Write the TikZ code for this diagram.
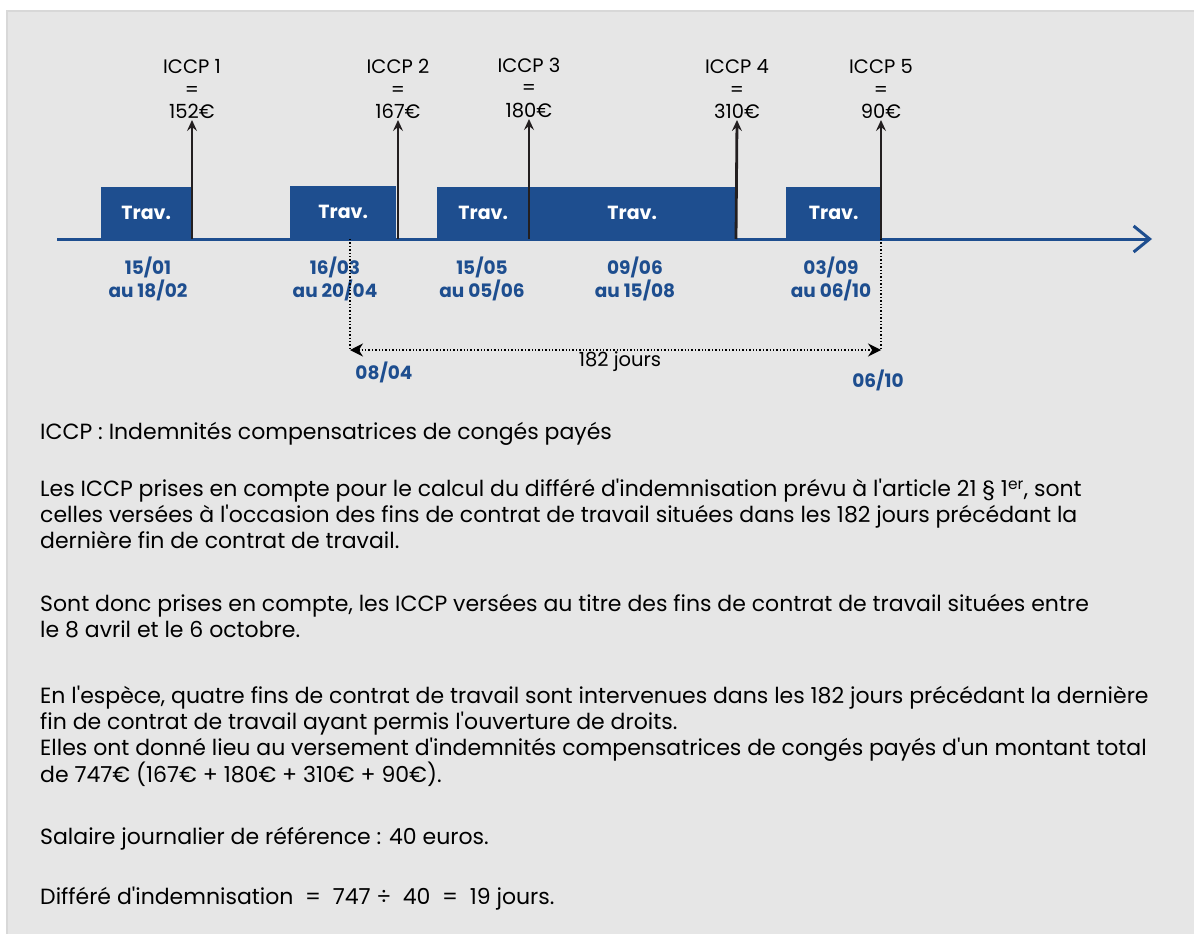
\documentclass[tikz,border=0pt]{standalone}
\usepackage{fontspec}
\setmainfont{Poppins}
\usetikzlibrary{arrows.meta, positioning, calc}
\definecolor{panel}{HTML}{E6E6E6}
\definecolor{panelline}{HTML}{D8D8D8}
\definecolor{travblue}{HTML}{1E4E8F}
\definecolor{arrowdark}{HTML}{231F20}
\newcommand{\ap}{\textquotesingle}
\tikzset{
  travbox/.style={fill=travblue, text=white, font=\fontsize{19}{22}\selectfont\bfseries,
    minimum height=52, inner sep=0, anchor=south west},
  iccplbl/.style={align=center, font=\fontsize{19.5}{22.5}\selectfont, anchor=south, inner sep=1},
  datelbl/.style={align=center, text=travblue, font=\fontsize{18.5}{23}\selectfont\bfseries, inner sep=0},
  payarrow/.style={draw=arrowdark, line width=2.8, -{Stealth[length=11, width=10, inset=4]}},
  dotline/.style={line width=1.4, dash pattern=on 1.4 off 2},
  bodytext/.style={align=left, anchor=north west, inner sep=0, font=\fontsize{22}{25.8}\selectfont}
}
\begin{document}
\begin{tikzpicture}[x=1pt, y=-1pt]
  \useasboundingbox (0,0) rectangle (1194,934);
  % Panel
  \draw[fill=panel, draw=panelline, line width=1.2] (7,11) rectangle (1200,940);

  % Time axis
  \coordinate (axstart) at (57,239);
  \coordinate (axend) at (1152,239);
  \draw[travblue, line width=3, -{Straight Barb[length=16, width=26, line width=3]}] (axstart) -- (axend);

  % Working periods
  \node[travbox, minimum width=90] (t1) at (101,239) {Trav.};
  \node[travbox, minimum width=106, minimum height=53] (t2) at (290,239) {Trav.};
  \node[travbox, minimum width=92] (t3) at (437,239) {Trav.};
  \node[travbox, minimum width=206] (t4) at (529,239) {Trav.};
  \node[travbox, minimum width=95] (t5) at (786,239) {Trav.};

  % Periods
  \node[datelbl] (d1) at (148,279) {15/01\\au 18/02};
  \node[datelbl] (d2) at (335,279) {16/03\\au 20/04};
  \node[datelbl] (d3) at (482,279) {15/05\\au 05/06};
  \node[datelbl] (d4) at (635,279) {09/06\\au 15/08};
  \node[datelbl] (d5) at (831,279) {03/09\\au 06/10};

  % ICCP payments
  \node[iccplbl] (i1) at (192,120) {ICCP 1\\=\\152€};
  \node[iccplbl] (i2) at (398,120) {ICCP 2\\=\\167€};
  \node[iccplbl] (i3) at (529,119) {ICCP 3\\=\\180€};
  \node[iccplbl] (i4) at (737,120) {ICCP 4\\=\\310€};
  \node[iccplbl] (i5) at (881,120) {ICCP 5\\=\\90€};
  \coordinate (p1) at (192,239);
  \coordinate (p2) at (398,239);
  \coordinate (p3) at (529,239);
  \coordinate (p4) at (736,239);
  \coordinate (p5) at (881,239);
  \draw[payarrow] (p1) -- (i1.south);
  \draw[payarrow] (p2) -- (i2.south);
  \draw[payarrow] (p3) -- (i3.south);
  \draw[payarrow] (p4) -- (i4.south);
  \draw[payarrow] (p5) -- (i5.south);

  % 182 days window
  \coordinate (wstart) at (350,239);
  \coordinate (wend) at (881,239);
  \coordinate (wa) at (350,350);
  \coordinate (wb) at (881,350);
  \draw[dotline] (wstart) -- (wa);
  \draw[dotline] (wend) -- (wb);
  \draw[dotline, {Stealth[length=13, width=13]}-{Stealth[length=13, width=13]}] (wa) -- (wb);
  \node[font=\fontsize{19.5}{22}\selectfont] (jours) at (620,362) {182 jours};
  \node[datelbl] (wdate1) at (384,372) {08/04};
  \node[datelbl] (wdate2) at (878,380) {06/10};

  % Explanations
  \node[bodytext] (txt0) at (40,422) {ICCP : Indemnités compensatrices de congés payés};
  \node[bodytext] (txt1) at (40,479) {Les ICCP prises en compte pour le calcul du différé d\ap indemnisation prévu à l\ap article 21 § 1\textsuperscript{er}, sont\\
    celles versées à l\ap occasion des fins de contrat de travail situées dans les 182 jours précédant la\\
    dernière fin de contrat de travail.};
  \node[bodytext] (txt2) at (40,594) {Sont donc prises en compte, les ICCP versées au titre des fins de contrat de travail situées entre\\
    le 8 avril et le 6 octobre.};
  \node[bodytext] (txt3) at (40,686) {En l\ap espèce, quatre fins de contrat de travail sont intervenues dans les 182 jours précédant la dernière\\
    fin de contrat de travail ayant permis l\ap ouverture de droits.\\
    Elles ont donné lieu au versement d\ap indemnités compensatrices de congés payés d\ap un montant total\\
    de 747€ (167€ + 180€ + 310€ + 90€).};
  \node[bodytext] (txt4) at (40,827) {Salaire journalier de référence : 40 euros.};
  \node[bodytext] (txt5) at (40,887) {Différé d\ap indemnisation ~=~ 747 ÷ ~40 ~=~ 19 jours.};
\end{tikzpicture}
\end{document}
